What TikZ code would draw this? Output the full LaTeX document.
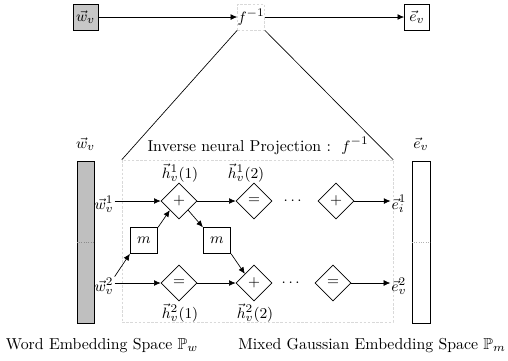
\documentclass[tikz,border=0pt]{standalone}
\usepackage{amsmath,amssymb}
\usetikzlibrary{shapes.geometric,arrows.meta}
\begin{document}
\begin{tikzpicture}[x=0.6pt,y=-0.6pt,
  every node/.style={font=\fontsize{9.5}{11}\selectfont},
  op/.style={draw,diamond,minimum width=21.6pt,minimum height=21.6pt,inner sep=0pt},
  mbox/.style={draw,minimum width=16.5pt,minimum height=15.5pt,inner sep=0pt},
  lab/.style={inner sep=0.5pt},
  faint/.style={draw=black!15,dash pattern=on 1.5pt off 1pt,line width=0.3pt},
  arr/.style={-{Latex[length=4pt,width=3.5pt]}},
  topbox/.style={draw,minimum width=15pt,minimum height=15.6pt,inner sep=0pt}]
\useasboundingbox (0,0) rectangle (508,360);
% top row
\node[topbox,fill=black!22] (tw) at (85.5,17) {$\vec{w}_v$};
\node[topbox,faint] (tf) at (251,17) {$f^{-1}$};
\node[topbox] (te) at (417,17) {$\vec{e}_v$};
\draw[arr] (tw) -- (tf);
\draw[arr] (tf) -- (te);
% big dashed region
\node[faint,minimum width=162.6pt,minimum height=97.2pt,inner sep=0pt] (reg) at (257.5,241) {};
\draw (tf.south west) -- (reg.north west);
\draw (tf.south east) -- (reg.north east);
\node (title) at (258,146) {Inverse neural Projection :\ \ $f^{-1}$};
% bars
\node[draw,fill=black!25,minimum width=10.2pt,minimum height=97.2pt,inner sep=0pt] (lbar) at (85.5,242) {};
\node[draw,minimum width=10.8pt,minimum height=97.2pt,inner sep=0pt] (rbar) at (421,242) {};
\draw[densely dotted,black!45] (lbar.west) -- (lbar.east);
\draw[densely dotted,black!30] (rbar.west) -- (rbar.east);
\node (lw) at (85.5,144) {$\vec{w}_v$};
\node (le) at (421,144) {$\vec{e}_v$};
% row labels
\node[lab] (w1) at (104,204) {$\vec{w}_v^1$};
\node[lab] (w2) at (104,286) {$\vec{w}_v^2$};
\node[lab] (e1) at (399,204) {$\vec{e}_i^1$};
\node[lab] (e2) at (399,286) {$\vec{e}_v^2$};
% operators
\node[op] (p1) at (179,201) {$+$};
\node[op] (q1) at (254,201) {$=$};
\node[op] (r1) at (336,201) {$+$};
\node[op] (p2) at (179,283) {$=$};
\node[op] (q2) at (254,283) {$+$};
\node[op] (r2) at (333,283) {$=$};
\node (dots1) at (294,201) {$\cdots$};
\node (dots2) at (292,283) {$\cdots$};
\node[mbox] (m1) at (144,240.5) {$m$};
\node[mbox] (m2) at (217,240.5) {$m$};
% h labels
\node[lab] (h11) at (180,173) {$\vec{h}_v^1(1)$};
\node[lab] (h12) at (246,173) {$\vec{h}_v^1(2)$};
\node[lab] (h21) at (180,313) {$\vec{h}_v^2(1)$};
\node[lab] (h22) at (255,313) {$\vec{h}_v^2(2)$};
% arrows
\draw[arr] (w1.east |- p1.west) -- (p1.west);
\draw[arr] (p1.east) -- (q1.west);
\draw[arr] (r1.east) -- (e1.west |- r1.east);
\draw[arr] (w2.east |- p2.west) -- (p2.west);
\draw[arr] (p2.east) -- (q2.west);
\draw[arr] (r2.east) -- (e2.west |- r2.east);
\draw[arr] (w2.north east) -- (m1.south west);
\draw[arr] (m1.north east) -- (p1.south west);
\draw[arr] (p1.south east) -- (m2.north west);
\draw[arr] (m2.south east) -- (q2.north west);
% bottom captions
\node (cw) at (102,346) {Word Embedding Space $\mathbb{P}_w$};
\node (cm) at (372,346) {Mixed Gaussian Embedding Space $\mathbb{P}_m$};
\end{tikzpicture}
\end{document}
